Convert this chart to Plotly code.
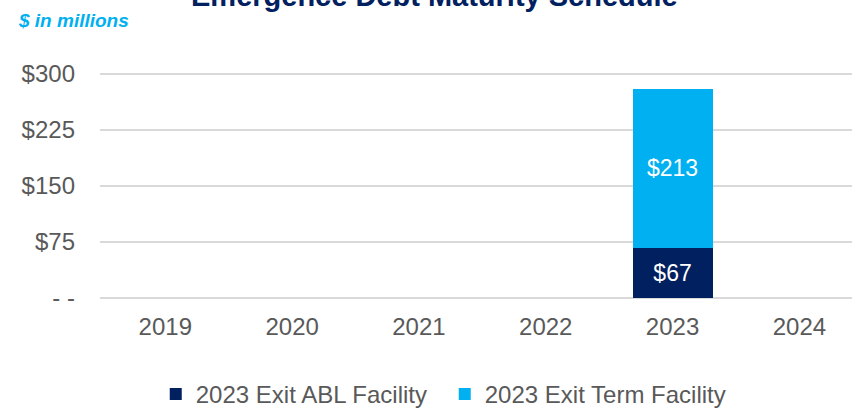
import plotly.graph_objects as go

years = ["2019", "2020", "2021", "2022", "2023", "2024"]
abl = [None, None, None, None, 67, None]
term = [None, None, None, None, 213, None]
tick_vals = [0, 75, 150, 225, 300]
tick_text = ["- -", "$75", "$150", "$225", "$300"]

FONT = "Liberation Sans"
GREY = "#595959"

fig = go.Figure()
fig.add_trace(go.Bar(
    x=years, y=abl, name="2023 Exit ABL Facility",
    marker=dict(color="#002060", line=dict(width=0)),
    text=[f"${v}" if v else "" for v in abl], textposition="inside",
    insidetextanchor="middle",
    textfont=dict(color="white", size=23, family=FONT),
    width=0.63,
))
fig.add_trace(go.Bar(
    x=years, y=term, name="2023 Exit Term Facility",
    marker=dict(color="#00B0F0", line=dict(width=0)),
    text=[f"${v}" if v else "" for v in term], textposition="inside",
    insidetextanchor="middle",
    textfont=dict(color="white", size=23, family=FONT),
    width=0.63,
))

fig.update_layout(
    barmode="stack",
    width=852, height=413,
    margin=dict(l=100, r=0, t=59, b=115, autoexpand=False),
    plot_bgcolor="white", paper_bgcolor="white",
    font=dict(family=FONT, color=GREY, size=24),
    xaxis=dict(range=[-0.515, 5.415], showgrid=False, showline=False, ticks="",
               ticklabelstandoff=12, automargin=False,
               tickfont=dict(size=24, color=GREY)),
    yaxis=dict(range=[0, 320], tickvals=tick_vals, ticktext=tick_text,
               showgrid=True, gridcolor="#D9D9D9", gridwidth=1.5,
               zeroline=True, zerolinecolor="#D9D9D9", zerolinewidth=1.5,
               ticks="", ticklabelstandoff=24, automargin=False,
               tickfont=dict(size=24, color=GREY)),
    showlegend=True,
    legend=dict(orientation="h", x=0.522, xanchor="center", xref="container",
                y=0.045, yanchor="middle", yref="container",
                font=dict(size=24, color=GREY), traceorder="normal",
                itemsizing="constant", itemwidth=30, entrywidth=244),
    annotations=[
        dict(text="<b>Emergence Debt Maturity Schedule</b>", xref="paper", yref="paper",
             x=0.445, y=1.262, xanchor="center", yanchor="middle", showarrow=False,
             font=dict(size=29, color="#002060", family=FONT)),
        dict(text="<b><i>$ in millions</i></b>", xref="paper", yref="paper",
             x=-0.112, y=1.16, xanchor="left", yanchor="middle", showarrow=False,
             font=dict(size=19, color="#00B0F0", family=FONT)),
    ],
)
fig.write_html("out.html")
